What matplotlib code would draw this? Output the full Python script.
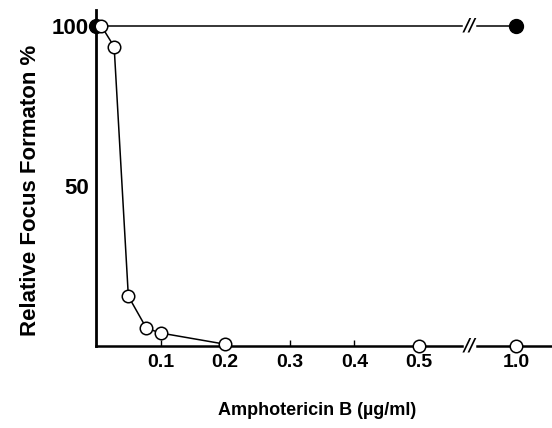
import matplotlib.pyplot as plt
import numpy as np

# concentration (ug/ml) and relative focus formation (%)
conc_open = [0.008, 0.028, 0.05, 0.078, 0.1, 0.2, 0.5, 1.0]
focus_open = [100, 93.5, 15.5, 5.5, 4, 0.5, 0, 0]
conc_filled = [0.0, 1.0]
focus_filled = [100, 100]
xticks = [0.1, 0.2, 0.3, 0.4, 0.5, 1.0]
xticklabels = ["0.1", "0.2", "0.3", "0.4", "0.5", "1.0"]
yticks = [50, 100]

# axis break: 1.0 is drawn just past the gap after 0.5
POS_ONE = 0.65
BRK = 0.577
XMAX = 0.705


def xpos(v):
    v = np.asarray(v, dtype=float)
    return np.where(v > 0.5, POS_ONE, v)


tick_font = dict(family="Liberation Sans", weight="bold", size=14)

fig = plt.figure(figsize=(5.52, 4.28), dpi=100)
ax = fig.add_axes([0.174, 0.192, 0.825, 0.785])
ax.set_xlim(0, XMAX)
ax.set_ylim(0, 105)

# filled series: straight line with a break
xf = xpos(conc_filled)
ax.plot([xf[0], BRK - 0.01], [focus_filled[0]] * 2, color="black", lw=1.1, clip_on=False)
ax.plot([BRK + 0.013, xf[1]], [focus_filled[1]] * 2, color="black", lw=1.1, clip_on=False)
ax.plot(xf, focus_filled, "o", color="black", ms=10, clip_on=False, zorder=4)

# open series
xo = xpos(conc_open)
ax.plot(xo[:6], focus_open[:6], color="black", lw=1.1, clip_on=False, zorder=3)
ax.plot(xo, focus_open, "o", mfc="white", mec="black", mew=1.1, ms=9,
        clip_on=False, zorder=5, linestyle="none")

# break marks
for y in (100, 0):
    ax.text(BRK + 0.0015, y, "//", ha="center", va="center", fontsize=12,
            fontweight="bold", fontstyle="italic", color="black")

for s in ("top", "right"):
    ax.spines[s].set_visible(False)
ax.spines["left"].set_linewidth(2)
ax.spines["bottom"].set_linewidth(1.8)
ax.spines["bottom"].set_bounds(0, BRK - 0.01)
ax.plot([BRK + 0.013, XMAX], [0, 0], color="black", lw=1.8, clip_on=False)

ax.set_xticks(xpos(xticks))
ax.set_xticklabels(xticklabels, fontdict=tick_font)
ax.set_yticks(yticks)
ax.set_yticklabels([str(t) for t in yticks], fontdict=dict(tick_font, size=16))
ax.tick_params(axis="x", direction="in", length=4, width=1, pad=6)
ax.tick_params(axis="y", length=0, pad=5)

ax.set_xlabel("Amphotericin B (\u00b5g/ml)", family="Liberation Sans",
              weight="bold", size=13)
ax.set_ylabel("Relative Focus Formaton %", family="Liberation Sans",
              weight="bold", size=16)
ax.xaxis.set_label_coords(0.486, -0.167)
ax.yaxis.set_label_coords(-0.12, 0.464)

fig.savefig("out.png", dpi=100)
